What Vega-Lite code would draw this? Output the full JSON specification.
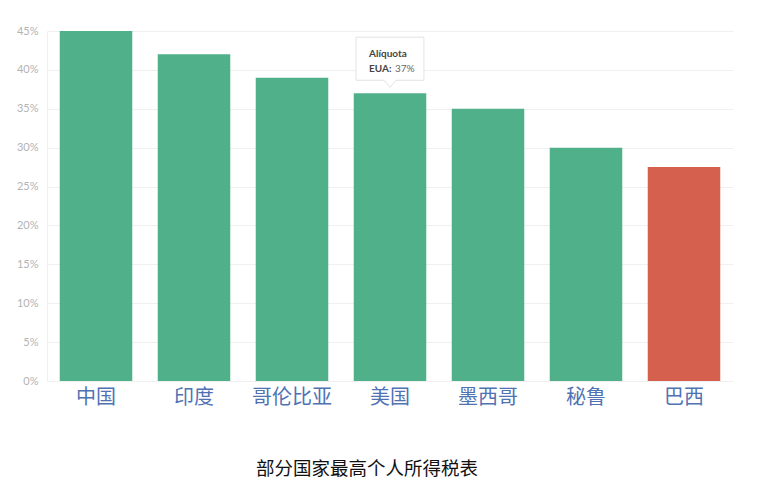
{
  "$schema": "https://vega.github.io/schema/vega-lite/v6.json",
  "description": "Top personal income tax rates by country",
  "autosize": {"type": "none"},
  "width": 686,
  "height": 350,
  "padding": {"left": 47, "top": 31, "right": 39, "bottom": 100},
  "background": "white",
  "title": {
    "text": "部分国家最高个人所得税表",
    "orient": "bottom",
    "anchor": "middle",
    "frame": "group",
    "offset": 53,
    "font": "Noto Sans CJK SC",
    "fontSize": 18.5,
    "fontWeight": "normal",
    "color": "#111111",
    "dx": -23
  },
  "config": {
    "view": {"stroke": null},
    "font": "Lato"
  },
  "data": {
    "values": [
      {"country": "中国", "rate": 0.45, "highlight": "no"},
      {"country": "印度", "rate": 0.42, "highlight": "no"},
      {"country": "哥伦比亚", "rate": 0.39, "highlight": "no"},
      {"country": "美国", "rate": 0.37, "highlight": "no"},
      {"country": "墨西哥", "rate": 0.35, "highlight": "no"},
      {"country": "秘鲁", "rate": 0.30, "highlight": "no"},
      {"country": "巴西", "rate": 0.275, "highlight": "yes"}
    ]
  },
  "encoding": {
    "x": {
      "field": "country",
      "type": "nominal",
      "sort": null,
      "scale": {"paddingInner": 0.26, "paddingOuter": 0.13},
      "axis": {
        "title": null,
        "domain": false,
        "ticks": false,
        "labelAngle": 0,
        "labelFont": "Noto Sans CJK SC",
        "labelFontSize": 20,
        "labelColor": "#4f72b3",
        "labelPadding": 6
      }
    },
    "y": {
      "field": "rate",
      "type": "quantitative",
      "scale": {"domain": [0, 0.45], "nice": false},
      "axis": {
        "title": null,
        "format": ".0%",
        "values": [0, 0.05, 0.1, 0.15, 0.2, 0.25, 0.3, 0.35, 0.4, 0.45],
        "ticks": false,
        "domain": true,
        "domainColor": "#f0f0f0",
        "gridColor": "#f0f0f0",
        "labelColor": "#b3b3b3",
        "labelFontSize": 11,
        "labelPadding": 9
      }
    }
  },
  "layer": [
    {
      "mark": {"type": "bar"},
      "encoding": {
        "color": {
          "field": "highlight",
          "type": "nominal",
          "scale": {"domain": ["no", "yes"], "range": ["#4fb08a", "#d4604d"]},
          "legend": null
        }
      }
    },
    {
      "transform": [{"filter": "datum.country === '美国'"}],
      "mark": {
        "type": "point",
        "shape": "M -0.97 -1.6 L 0.97 -1.6 L 0.97 -0.37 L 0.17 -0.37 L 0 -0.17 L -0.17 -0.37 L -0.97 -0.37 Z",
        "size": 4900,
        "filled": true,
        "fill": "white",
        "stroke": "#e3e3e3",
        "strokeWidth": 1,
        "opacity": 1
      }
    },
    {
      "transform": [{"filter": "datum.country === '美国'"}],
      "mark": {
        "type": "text",
        "text": "Alíquota",
        "align": "left",
        "baseline": "middle",
        "dx": -21,
        "dy": -39,
        "fontSize": 10,
        "fontWeight": "bold",
        "color": "#444444"
      }
    },
    {
      "transform": [{"filter": "datum.country === '美国'"}],
      "mark": {
        "type": "text",
        "text": "EUA:",
        "align": "left",
        "baseline": "middle",
        "dx": -21,
        "dy": -24,
        "fontSize": 10,
        "fontWeight": "bold",
        "color": "#444444"
      }
    },
    {
      "transform": [{"filter": "datum.country === '美国'"}],
      "mark": {
        "type": "text",
        "align": "left",
        "baseline": "middle",
        "dx": 5,
        "dy": -24,
        "fontSize": 10,
        "color": "#666666"
      },
      "encoding": {
        "text": {"field": "rate", "type": "quantitative", "format": ".0%"}
      }
    }
  ]
}
